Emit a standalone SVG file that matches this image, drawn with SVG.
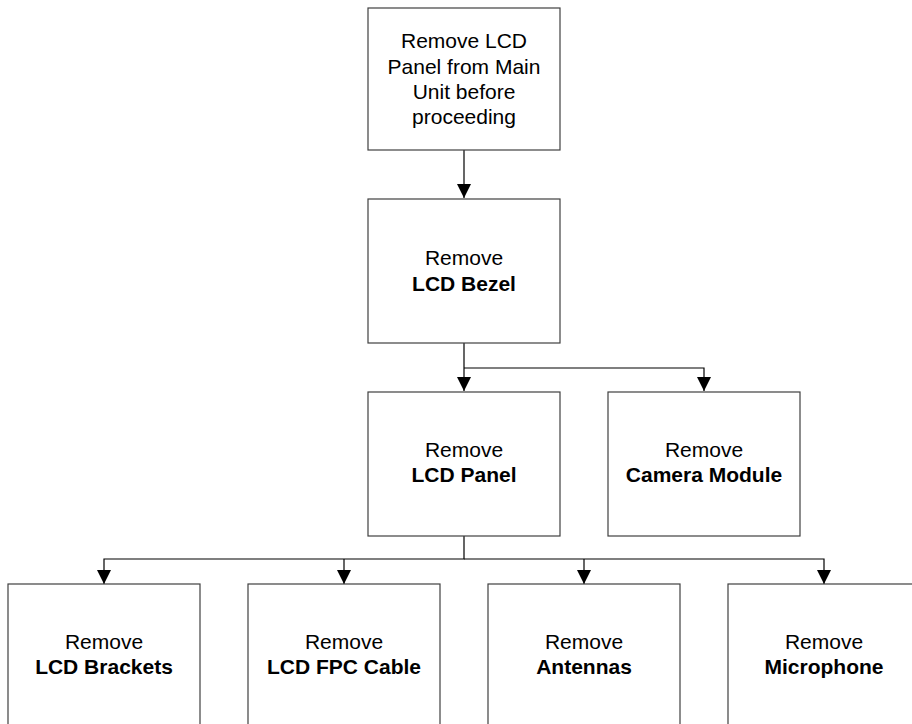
<svg xmlns="http://www.w3.org/2000/svg" width="912" height="724" viewBox="0 0 912 724">
<style>
.box{fill:#fff;stroke:#404040;stroke-width:1.2}
.t{font-family:"Liberation Sans",Arial,sans-serif;font-size:21px;fill:#000;text-anchor:middle}
.b{font-weight:bold}
.c{fill:none;stroke:#000;stroke-width:1.2}
</style>
<defs>
<marker id="ah" markerWidth="14" markerHeight="14" viewBox="0 0 14 14" refX="14" refY="7" orient="auto" markerUnits="userSpaceOnUse">
<path d="M0,0 L14,7 L0,14 Z" fill="#000"/>
</marker>
</defs>
<rect width="912" height="724" fill="#fff"/>
<g id="connectors">
<path class="c" d="M464,150 V198" marker-end="url(#ah)"/>
<path class="c" d="M464,343 V391" marker-end="url(#ah)"/>
<path class="c" d="M464,368 H704 V391" marker-end="url(#ah)"/>
<path class="c" d="M464,536 V559 H104 V584" marker-end="url(#ah)"/>
<path class="c" d="M344,559 V584" marker-end="url(#ah)"/>
<path class="c" d="M464,559 H824 V584" marker-end="url(#ah)"/>
<path class="c" d="M584,559 V584" marker-end="url(#ah)"/>
</g>
<g id="n_top">
<rect class="box" x="368" y="8" width="192" height="142"/>
<text class="t" x="464" y="48">Remove LCD</text>
<text class="t" x="464" y="73.5">Panel from Main</text>
<text class="t" x="464" y="99">Unit before</text>
<text class="t" x="464" y="124">proceeding</text>
</g>
<g id="n_bezel">
<rect class="box" x="368" y="199" width="192" height="144"/>
<text class="t" x="464" y="265">Remove</text>
<text class="t b" x="464" y="290.5">LCD Bezel</text>
</g>
<g id="n_panel">
<rect class="box" x="368" y="392" width="192" height="144"/>
<text class="t" x="464" y="457">Remove</text>
<text class="t b" x="464" y="482">LCD Panel</text>
</g>
<g id="n_camera">
<rect class="box" x="608" y="392" width="192" height="144"/>
<text class="t" x="704" y="457">Remove</text>
<text class="t b" x="704" y="482">Camera Module</text>
</g>
<g id="n_brackets">
<rect class="box" x="8" y="584" width="192" height="150"/>
<text class="t" x="104" y="649">Remove</text>
<text class="t b" x="104" y="674">LCD Brackets</text>
</g>
<g id="n_fpc">
<rect class="box" x="248" y="584" width="192" height="150"/>
<text class="t" x="344" y="649">Remove</text>
<text class="t b" x="344" y="674">LCD FPC Cable</text>
</g>
<g id="n_antennas">
<rect class="box" x="488" y="584" width="192" height="150"/>
<text class="t" x="584" y="649">Remove</text>
<text class="t b" x="584" y="674">Antennas</text>
</g>
<g id="n_mic">
<rect class="box" x="728" y="584" width="192" height="150"/>
<text class="t" x="824" y="649">Remove</text>
<text class="t b" x="824" y="674">Microphone</text>
</g>
</svg>
